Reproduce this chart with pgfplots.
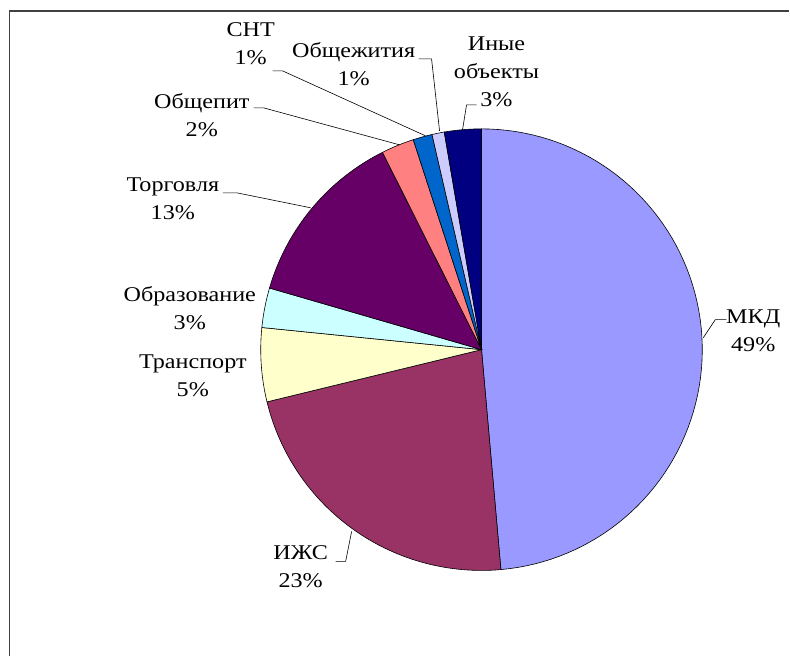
\documentclass[border=0pt]{standalone}
\usepackage{pgfplots}
\pgfplotsset{compat=1.18}
\usepackage{fontspec}
\setmainfont{Liberation Serif}[FakeStretch=1.15]
\definecolor{cMKD}{HTML}{9999FF}
\definecolor{cIZhS}{HTML}{993366}
\definecolor{cTrans}{HTML}{FFFFCC}
\definecolor{cObr}{HTML}{CCFFFF}
\definecolor{cTorg}{HTML}{660066}
\definecolor{cObshch}{HTML}{FF8080}
\definecolor{cSNT}{HTML}{0066CC}
\definecolor{cObzh}{HTML}{CCCCFF}
\definecolor{cIny}{HTML}{000080}
\tikzset{lbl/.style={font=\fontsize{21bp}{28bp}\selectfont, align=center, inner sep=0pt}}
% slice: colour, start angle, end angle (degrees, counter-clockwise from 3 o'clock)
\newcommand{\slice}[3]{\addplot[draw=black, line width=0.6pt, fill=#1, domain=#2:#3, samples=80, variable=\t]
  ({482+221*cos(t)}, {350-221*sin(t)}) -- (axis cs:482,350) -- cycle;}
\begin{document}
\begin{tikzpicture}
\begin{axis}[
  scale only axis, width=790bp, height=657bp,
  xmin=0, xmax=790, ymin=0, ymax=657, y dir=reverse,
  hide axis, clip=false,
]
\path (axis cs:0,0) rectangle (axis cs:790,657);
% shares (%): MKD 48.6, IZhS 22.6, Transport 5.4, Education 2.9, Trade 13.1,
% Catering 2.4, SNT 1.4, Dormitories 0.9, Other 2.7 -> angles = 3.6 * share, clockwise from 90
\slice{cMKD}{-84.96}{90}
\slice{cIZhS}{-166.32}{-84.96}
\slice{cTrans}{-185.76}{-166.32}
\slice{cObr}{-196.2}{-185.76}
\slice{cTorg}{-243.36}{-196.2}
\slice{cObshch}{-252.0}{-243.36}
\slice{cSNT}{-257.04}{-252.0}
\slice{cObzh}{-260.28}{-257.04}
\slice{cIny}{-270.0}{-260.28}
% leader lines
\addplot[black, line width=0.6pt] coordinates {(727,320) (716,320) (704,338)};
\addplot[black, line width=0.6pt] coordinates {(336,562) (346,562) (352,532)};
\addplot[black, line width=0.6pt] coordinates {(223,193) (237,193) (311,208)};
\addplot[black, line width=0.6pt] coordinates {(254,108) (264,108) (400,145)};
\addplot[black, line width=0.6pt] coordinates {(273,71) (283,71) (426,136)};
\addplot[black, line width=0.6pt] coordinates {(419,59) (432,59) (440,131)};
\addplot[black, line width=0.6pt] coordinates {(477,105) (467,105) (463,130)};
% labels
\node[lbl] at (axis cs:754,331) {МКД\\49\%};
\node[lbl] at (axis cs:301,567) {ИЖС\\23\%};
\node[lbl] at (axis cs:193,376) {Транспорт\\5\%};
\node[lbl] at (axis cs:190,308) {Образование\\3\%};
\node[lbl] at (axis cs:173,199) {Торговля\\13\%};
\node[lbl] at (axis cs:202,115) {Общепит\\2\%};
\node[lbl] at (axis cs:251,44) {СНТ\\1\%};
\node[lbl] at (axis cs:354,64) {Общежития\\1\%};
\node[lbl] at (axis cs:497,72) {Иные\\объекты\\3\%};
% frame
\draw[black!75, line width=1.6pt] (axis cs:9.5,657) -- (axis cs:9.5,11) -- (axis cs:790,11);
\end{axis}
\end{tikzpicture}
\end{document}
